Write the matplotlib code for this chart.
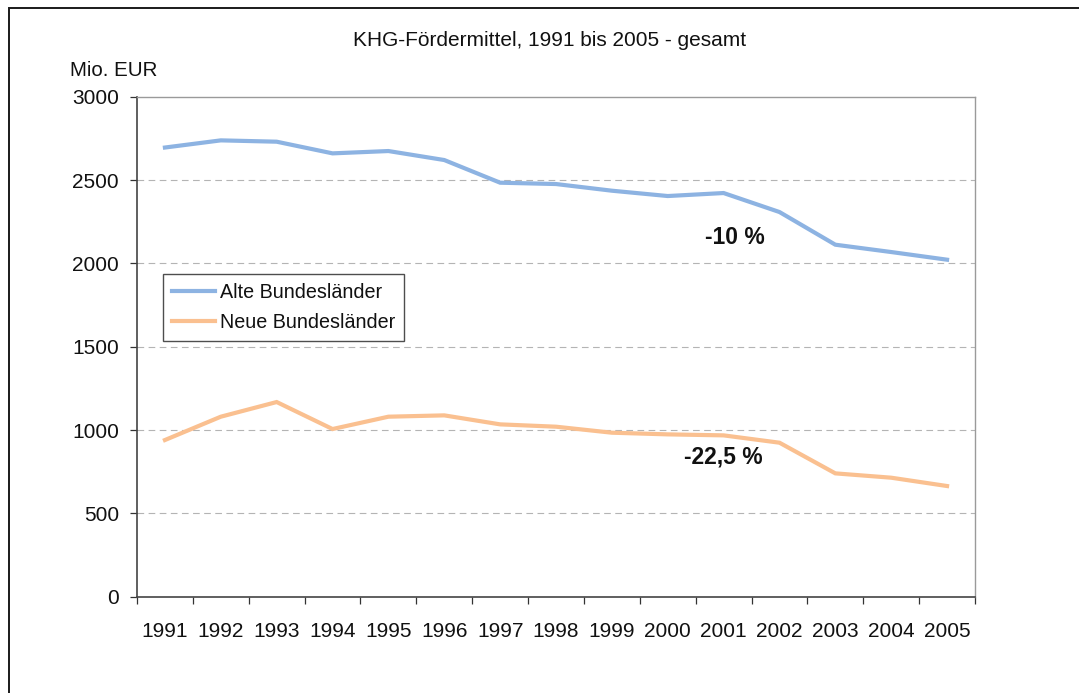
import matplotlib
matplotlib.use("Agg")
import matplotlib.pyplot as plt
from matplotlib.patches import Rectangle

plt.rcParams['font.family'] = ['Liberation Sans', 'DejaVu Sans']

years = ['1991', '1992', '1993', '1994', '1995', '1996', '1997', '1998',
         '1999', '2000', '2001', '2002', '2003', '2004', '2005']
alte = [2695, 2738, 2730, 2660, 2674, 2620, 2484, 2476,
        2436, 2404, 2422, 2308, 2112, 2068, 2022]
neue = [940, 1080, 1168, 1006, 1080, 1088, 1034, 1020,
        984, 974, 968, 924, 740, 714, 664]
series_names = ['Alte Bundesländer', 'Neue Bundesländer']
yticks = [0, 500, 1000, 1500, 2000, 2500, 3000]
title = 'KHG-Fördermittel, 1991 bis 2005 - gesamt'
ylabel = 'Mio. EUR'
ann_alte = '-10 %'
ann_neue = '-22,5 %'

W, H = 1079, 693
fig = plt.figure(figsize=(W / 100, H / 100), dpi=100)
fig.patch.set_facecolor('white')

# outer frame
fig.patches.append(Rectangle((8.5 / W, -0.1), 1.2, 1.1 - 8.5 / H,
                             transform=fig.transFigure, fill=False,
                             edgecolor='#1a1a1a', linewidth=1.4, zorder=0))

left, right = 137 / W, 975 / W
bottom, top = 1 - 596.7 / H, 1 - 96.7 / H
ax = fig.add_axes([left, bottom, right - left, top - bottom])

x = list(range(len(years)))
ax.plot(x, alte, color='#8db3e2', linewidth=3.0, label=series_names[0],
        solid_joinstyle='miter', zorder=3)
ax.plot(x, neue, color='#fac090', linewidth=3.0, label=series_names[1],
        solid_joinstyle='miter', zorder=3)

ax.set_xlim(-0.5, len(years) - 0.5)
ax.set_ylim(0, 3000)
ax.set_yticks(yticks)
ax.set_yticklabels([str(v) for v in yticks])
for v in yticks[1:-1]:
    ax.axhline(v, color='#b4b4b4', linewidth=0.8, dashes=(6, 4), zorder=1)

# category boundaries as ticks, labels at centres
ax.set_xticks([i - 0.5 for i in range(len(years) + 1)])
ax.set_xticklabels([''] * (len(years) + 1))
ax.set_xticks(x, minor=True)
ax.set_xticklabels(years, minor=True)
ax.tick_params(axis='x', which='major', length=5, width=0.9, color='#333333',
               direction='out')
ax.tick_params(axis='x', which='minor', length=0, pad=18, labelsize=15,
               labelcolor='#111111')
ax.tick_params(axis='y', length=5, width=0.9, color='#333333', pad=8,
               labelsize=15, labelcolor='#111111')

for s in ['left', 'bottom']:
    ax.spines[s].set_color('#444444')
    ax.spines[s].set_linewidth(1.2)
for s in ['top', 'right']:
    ax.spines[s].set_color('#9a9a9a')
    ax.spines[s].set_linewidth(1.0)

fig.text(550 / W, 1 - 40.5 / H, title, ha='center', va='center',
         fontsize=15, color='#111111')
fig.text(70 / W, 1 - 71 / H, ylabel, ha='left', va='center', fontsize=14.8,
         color='#111111')

ax.text(10.2, 2155, ann_alte, ha='center', va='center', fontsize=16.5,
        fontweight='bold', color='#111111')
ax.text(10.0, 836, ann_neue, ha='center', va='center', fontsize=16.5,
        fontweight='bold', color='#111111')

leg = ax.legend(loc='upper left', bbox_to_anchor=((163 - 137) / 838, (596.7 - 274) / 500),
                borderaxespad=0, frameon=True, fancybox=False, fontsize=14.2,
                handlelength=2.2, handletextpad=0.25, labelspacing=0.55,
                borderpad=0.45)
leg.get_frame().set_edgecolor('#222222')
leg.get_frame().set_linewidth(1.0)
for t in leg.get_texts():
    t.set_color('#111111')

fig.savefig('out.png', dpi=100)
